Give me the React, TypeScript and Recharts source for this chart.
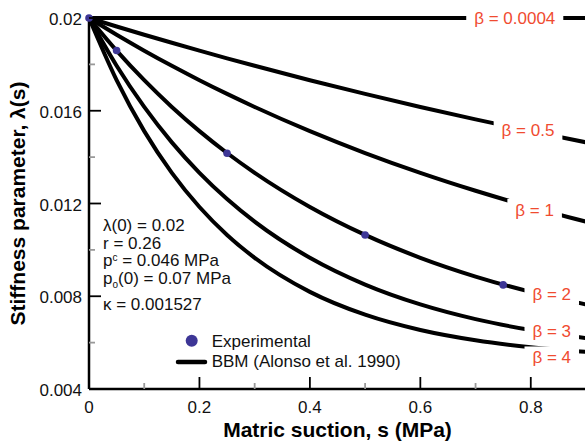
import React from 'react';
import {
  ComposedChart,
  Line,
  Scatter,
  XAxis,
  YAxis,
  ReferenceDot,
  Legend,
  Customized
} from 'recharts';

// matric suction (MPa) where the BBM curves are read
const suction = [0, 0.05, 0.1, 0.15, 0.2, 0.25, 0.3, 0.4, 0.5, 0.6, 0.7, 0.8, 0.9];

// stiffness parameter λ(s) for each β
const lambdaB00004 = [0.02, 0.02, 0.019999, 0.019999, 0.019999, 0.019999, 0.019998, 0.019998, 0.019997, 0.019996, 0.019996, 0.019995, 0.019995];
const lambdaB05 = [0.02, 0.019635, 0.019278, 0.018931, 0.018592, 0.018261, 0.017939, 0.017317, 0.016726, 0.016164, 0.015629, 0.015121, 0.014637];
const lambdaB1 = [0.02, 0.019278, 0.018592, 0.017939, 0.017317, 0.016726, 0.016164, 0.015121, 0.014177, 0.013322, 0.01255, 0.01185, 0.011217];
const lambdaB2 = [0.02, 0.018592, 0.017317, 0.016164, 0.015121, 0.014177, 0.013322, 0.01185, 0.010645, 0.009658, 0.00885, 0.008188, 0.007646];
const lambdaB3 = [0.02, 0.017939, 0.016164, 0.014637, 0.013322, 0.012191, 0.011217, 0.009658, 0.008502, 0.007646, 0.007012, 0.006543, 0.006195];
const lambdaB4 = [0.02, 0.017317, 0.015121, 0.013322, 0.01185, 0.010645, 0.009658, 0.008188, 0.007203, 0.006543, 0.0061, 0.005803, 0.005604];

const seriesKeys = ['b00004', 'b05', 'b1', 'b2', 'b3', 'b4'];
const seriesValues = [lambdaB00004, lambdaB05, lambdaB1, lambdaB2, lambdaB3, lambdaB4];

// curve labels and where they sit (s, λ)
const curveLabels = ['β = 0.0004', 'β = 0.5', 'β = 1', 'β = 2', 'β = 3', 'β = 4'];
const labelSuction = [0.771, 0.795, 0.807, 0.838, 0.838, 0.838];
const labelLambda = [0.02, 0.015165, 0.01172, 0.0081, 0.00648, 0.00536];

// experimental points
const expSuction = [0, 0.05, 0.25, 0.5, 0.75];
const expLambda = [0.02, 0.0186, 0.01417, 0.01064, 0.00849];

const xTicks = [0, 0.1, 0.2, 0.3, 0.4, 0.5, 0.6, 0.7, 0.8];
const yTicks = [0.004, 0.006, 0.008, 0.01, 0.012, 0.014, 0.016, 0.018, 0.02];

const curveData = suction.map((s, i) => {
  const row: Record<string, number> = { s };
  seriesKeys.forEach((k, j) => {
    row[k] = seriesValues[j][i];
  });
  return row;
});
const expData = expSuction.map((s, i) => ({ s, lambda: expLambda[i] }));

const FONT = '"Liberation Sans", Arial, Helvetica, sans-serif';
const POINT = '#3d3696';
const RED = '#f04b30';

const glyphW: Record<string, number> = { 'β': 0.57, ' ': 0.278, '=': 0.584, '.': 0.278 };
const textWidth = (t: string, size: number) =>
  t.split('').reduce((sum, c) => sum + (glyphW[c] ?? 0.556), 0) * size;

function YTick(props: any) {
  const { x, y, payload } = props;
  const v = payload.value as number;
  const major = Math.round(v * 1000) % 4 === 0;
  return (
    <g>
      <line x1={x} x2={x + (major ? 12 : 6)} y1={y} y2={y} stroke={major ? '#000' : '#999'} strokeWidth={1.8} />
      {major && (
        <text x={x - 7} y={y + 7} textAnchor="end" fontSize={17} fontFamily={FONT} fill="#111">
          {Number(v.toFixed(3)).toString()}
        </text>
      )}
    </g>
  );
}

function XTick(props: any) {
  const { x, y, payload } = props;
  const v = payload.value as number;
  const major = Math.round(v * 10) % 2 === 0;
  return (
    <g>
      <line x1={x} x2={x} y1={y} y2={y - (major ? 12 : 6)} stroke={major ? '#000' : '#999'} strokeWidth={1.8} />
      {major && (
        <text x={x} y={y + 24} textAnchor="middle" fontSize={17} fontFamily={FONT} fill="#111">
          {Number(v.toFixed(1)).toString()}
        </text>
      )}
    </g>
  );
}

function CurveTag({ cx, cy, text }: { cx: number; cy: number; text: string }) {
  const w = textWidth(text, 17) + 16;
  return (
    <g>
      <rect x={cx - w / 2} y={cy - 11} width={w} height={22} fill="#fff" />
      <text x={cx} y={cy + 6} textAnchor="middle" fontSize={17} fontFamily={FONT} fill={RED}>
        {text}
      </text>
    </g>
  );
}

function Notes() {
  const t = { fontSize: 17, fontFamily: FONT, fill: '#111' };
  return (
    <g>
      <text x={103} y={231} {...t}>λ(0) = 0.02</text>
      <text x={103} y={249} {...t}>r = 0.26</text>
      <text x={103} y={266} {...t}>
        p<tspan fontSize={10} dy={-5}>c</tspan>
        <tspan dy={5}> = 0.046 MPa</tspan>
      </text>
      <text x={103} y={284} {...t}>
        p<tspan fontSize={10} dy={4}>o</tspan>
        <tspan dy={-4}>(0) = 0.07 MPa</tspan>
      </text>
      <text x={103} y={310} {...t}>κ = 0.001527</text>
    </g>
  );
}

function LegendBox() {
  const t = { fontSize: 17, fontFamily: FONT, fill: '#111' };
  return (
    <svg width={240} height={46} style={{ display: 'block', overflow: 'visible' }}>
      <circle cx={15.7} cy={12.7} r={6} fill={POINT} />
      <text x={35.7} y={19} {...t}>Experimental</text>
      <line x1={2} x2={29} y1={34} y2={34} stroke="#000" strokeWidth={4.5} strokeLinecap="round" />
      <text x={35.7} y={38.7} {...t}>BBM (Alonso et al. 1990)</text>
    </svg>
  );
}

export default function App(): React.ReactElement {
  return (
    <div
      style={{
        position: 'absolute',
        left: 0,
        top: 0,
        width: 585,
        height: 443,
        overflow: 'hidden',
        background: '#fff'
      }}
    >
      <ComposedChart
        width={600}
        height={443}
        data={curveData}
        margin={{ top: 18, right: 14, bottom: 0, left: 0 }}
      >
        <XAxis
          dataKey="s"
          type="number"
          domain={[0, 0.9]}
          ticks={xTicks}
          interval={0}
          height={54}
          tickSize={0}
          tickMargin={0}
          tickLine={false}
          tick={<XTick />}
          axisLine={{ stroke: '#000', strokeWidth: 2.5 }}
          label={(p: any) => {
            const vb = p.viewBox;
            return (
              <text
                x={vb.x + vb.width / 2}
                y={vb.y + 48}
                textAnchor="middle"
                fontSize={21}
                fontWeight="bold"
                fontFamily={FONT}
                fill="#000"
              >
                Matric suction, s (MPa)
              </text>
            );
          }}
        />
        <YAxis
          type="number"
          domain={[0.004, 0.02]}
          ticks={yTicks}
          interval={0}
          width={89}
          tickSize={0}
          tickMargin={0}
          tickLine={false}
          tick={<YTick />}
          axisLine={{ stroke: '#000', strokeWidth: 2.5 }}
          label={(p: any) => {
            const vb = p.viewBox;
            const cy = vb.y + vb.height / 2;
            return (
              <text
                x={25}
                y={cy}
                transform={`rotate(-90, 25, ${cy})`}
                textAnchor="middle"
                fontSize={21}
                fontWeight="bold"
                fontFamily={FONT}
                fill="#000"
              >
                Stiffness parameter, λ(s)
              </text>
            );
          }}
        />
        {seriesKeys.map((k) => (
          <Line
            key={k}
            dataKey={k}
            type="monotone"
            stroke="#000"
            strokeWidth={4}
            dot={false}
            activeDot={false}
            isAnimationActive={false}
          />
        ))}
        {curveLabels.map((txt, i) => (
          <ReferenceDot
            key={txt}
            x={labelSuction[i]}
            y={labelLambda[i]}
            r={0}
            shape={(p: any) => <CurveTag cx={p.cx} cy={p.cy} text={txt} />}
          />
        ))}
        <Scatter
          data={expData}
          dataKey="lambda"
          fill={POINT}
          isAnimationActive={false}
          shape={(p: any) => <circle cx={p.cx} cy={p.cy} r={3.8} fill={POINT} />}
        />
        <Customized component={<Notes />} />
        <Legend
          layout="horizontal"
          verticalAlign="middle"
          wrapperStyle={{ left: 176, top: 328, width: 240, height: 46 }}
          content={() => <LegendBox />}
        />
      </ComposedChart>
    </div>
  );
}
